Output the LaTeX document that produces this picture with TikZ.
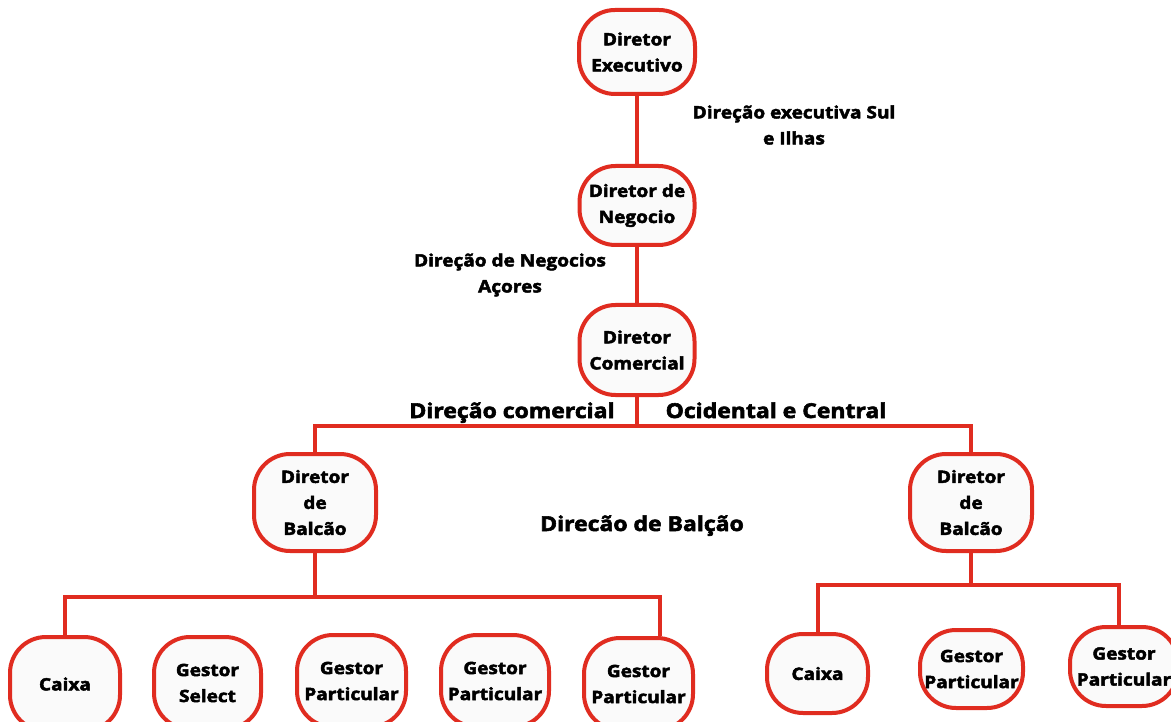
\documentclass[tikz,border=0pt]{standalone}
\usepackage{fontspec}
\setmainfont{Open Sans}[FakeStretch=1.12,BoldFeatures={FakeBold=2.8}]
\usepackage{tikz}

\definecolor{rojo}{RGB}{224,44,32}
\definecolor{fondo}{RGB}{250,250,250}

\begin{document}
\begin{tikzpicture}[x=1pt,y=-1pt]

% definiciones

% estilos de linea y relleno
\tikzstyle{cargo}    = [draw=rojo,line width=4pt,fill=fondo,rounded corners=36pt,align=center,inner sep=1pt,font=\bfseries\fontsize{17}{26}\selectfont]
\tikzstyle{enlace}   = [draw=rojo,line width=4pt]
\tikzstyle{rotulo}   = [align=center,inner sep=0pt,font=\bfseries\fontsize{17}{26}\selectfont]
\tikzstyle{rotulogr} = [anchor=base,inner sep=0pt,font=\bfseries\fontsize{20.5}{24}\selectfont]

% caja de un cargo
% #1: nombre del nudo
% #2: ubicación del centro ()
% #3: ancho interior
% #4: alto interior
% #5: rótulo del cargo
\newcommand{\cargo}[5]{
	\node [cargo,minimum width=#3pt,minimum height=#4pt] (#1) at #2 {#5};
}

% marco
\useasboundingbox (0,0) rectangle (1171,722);

% cargos
\cargo{exec}{(637,52)}{116}{84}{Diretor\\Executivo}
\cargo{neg}{(637,205.5)}{115}{79}{Diretor de\\Negocio}
\cargo{com}{(637,350)}{115}{90}{Diretor\\Comercial}
\cargo{balI}{(315,502.5)}{122}{97}{Diretor\\de\\Balcão}
\cargo{balD}{(971,502.5)}{122}{97}{Diretor\\de\\Balcão}
\cargo{cajaI}{(65,684)}{110}{94}{Caixa}
\cargo{selI}{(207.5,683)}{107}{92}{Gestor\\Select}
\cargo{parI1}{(351.5,681)}{109}{92}{Gestor\\Particular}
\cargo{parI2}{(495,681)}{108}{92}{Gestor\\Particular}
\cargo{parI3}{(638.5,684)}{109}{92}{Gestor\\Particular}
\cargo{cajaD}{(817.5,673.5)}{101}{79}{Caixa}
\cargo{parD1}{(971.5,669)}{103}{78}{Gestor\\Particular}
\cargo{parD2}{(1124,666.5)}{108}{79}{Gestor\\Particular}

% enlaces
\coordinate (j1) at (637,426);
\coordinate (j2) at (315,597);
\coordinate (j3) at (971,585);
\draw [enlace] (exec) -- (neg);
\draw [enlace] (neg) -- (com);
\draw [enlace] (com) -- (j1);
\draw [enlace] (balI.north) |- (j1) -| (balD.north);
\draw [enlace] (balI) -- (j2);
\draw [enlace] (cajaI.north) |- (j2) -| ([xshift=21.5pt]parI3.north);
\draw [enlace] (balD) -- (j3);
\draw [enlace] (cajaD.north) |- (j3) -| ([xshift=-5pt]parD2.north);

% rotulos
\node [rotulo] (dirsul) at (794,125) {Direção executiva Sul\\e Ilhas};
\node [rotulo] (dirneg) at (510,275) {Direção de Negocios\\Açores};
\node [rotulogr] (dircom) at (512,418) {Direção comercial};
\node [rotulogr] (dirocc) at (776,418) {Ocidental e Central};
\node [rotulogr] (dirbal) at (642,531) {Direcão de Balção};

\end{tikzpicture}
\end{document}
